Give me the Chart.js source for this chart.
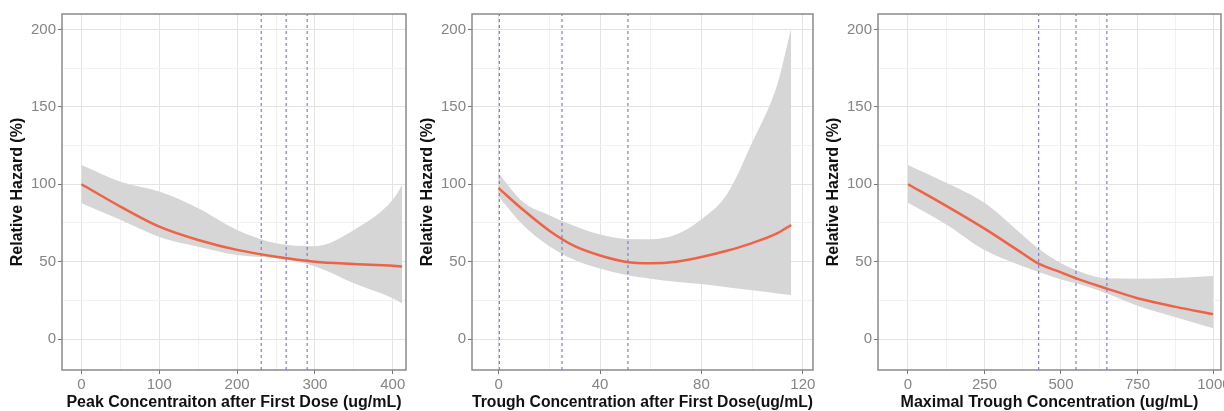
<!DOCTYPE html>
<html>
<head>
<meta charset="utf-8">
<script src="https://cdn.jsdelivr.net/npm/chart.js@4/dist/chart.umd.min.js"></script>
<style>
  body { margin: 0; background: #fff; }
  #wrap { position: relative; width: 1224px; height: 411px; }
  canvas { position: absolute; top: 0; }
</style>
</head>
<body>
<div id="wrap">
  <canvas id="c1" width="410" height="411" style="left:0px"></canvas>
  <canvas id="c2" width="408" height="411" style="left:410px"></canvas>
  <canvas id="c3" width="408" height="411" style="left:816px"></canvas>
</div>
<script>
// shared y axis
const yTicks = [0, 50, 100, 150, 200];
const yRange = [-20, 210];

// panel 1: peak concentration after first dose
const peakX     = [0, 50, 100, 150, 200, 250, 300, 350, 400, 412];
const peakMean  = [100, 85.6, 72.6, 64, 57.6, 53.2, 50, 48.5, 47.3, 46.8];
const peakUpper = [112.5, 101.7, 95.3, 84.5, 70.5, 61.9, 60, 70.5, 90, 99.6];
const peakLower = [87.8, 77, 66, 59.7, 54.3, 52.2, 47, 36, 26.3, 23];
const peakCuts  = [231, 263, 290];
const peakTicks = [0, 100, 200, 300, 400];

// panel 2: trough concentration after first dose
const troughX     = [0, 10, 20, 30, 40, 50, 60, 70, 80, 90, 100, 110, 115.4];
const troughMean  = [97.5, 83, 70, 60, 54, 50, 49, 50, 53, 57, 62, 68.4, 73.7];
const troughUpper = [107, 88, 80, 73, 67.5, 64.7, 64.5, 67.5, 77.4, 93.4, 127, 165, 201];
const troughLower = [92, 73, 60, 51, 45.5, 41.5, 39, 37, 35.5, 33.5, 31.5, 29.5, 28.5];
const troughCuts  = [0.3, 25, 51];
const troughTicks = [0, 40, 80, 120];

// panel 3: maximal trough concentration
const maxX     = [0, 125, 250, 375, 427, 500, 550, 650, 750, 875, 997];
const maxMean  = [100, 86, 71.3, 55.3, 48.7, 43.1, 39.2, 32.6, 26.4, 20.8, 16.1];
const maxUpper = [112.5, 101, 88, 67, 58.3, 49, 44.5, 39.2, 39, 39.5, 40.8];
const maxLower = [88, 74, 57.5, 47, 43.3, 38.5, 36, 29.4, 21.5, 14, 6.9];
const maxCuts  = [427, 549, 650];
const maxTicks = [0, 250, 500, 750, 1000];

const FONT = "'Liberation Sans', Arial, sans-serif";

// frame around the plot area
const framePlugin = {
    id: 'frame',
    afterDraw(chart) {
        const a = chart.chartArea;
        const ctx = chart.ctx;
        ctx.save();
        ctx.strokeStyle = '#8a8a8a';
        ctx.lineWidth = 1.5;
        ctx.strokeRect(a.left, a.top, a.right - a.left, a.bottom - a.top);
        ctx.restore();
    }
};

// majors plus midpoints for the minor grid
function withMinor(majors) {
    const out = [];
    majors.forEach((v, i) => {
        out.push({ value: v, major: true });
        if (i < majors.length - 1) out.push({ value: (v + majors[i + 1]) / 2, major: false });
    });
    return out;
}

function zip(xs, ys) {
    return xs.map((x, i) => ({ x: x, y: ys[i] }));
}

function noPad(s) {
    s.paddingLeft = 0;
    s.paddingRight = 0;
    s.paddingTop = 0;
    s.paddingBottom = 0;
}

function makePanel(id, opts) {
    const datasets = [
        { data: zip(opts.x, opts.lower), borderWidth: 0, pointRadius: 0, fill: false,
          cubicInterpolationMode: 'monotone', order: 3 },
        { data: zip(opts.x, opts.upper), borderWidth: 0, pointRadius: 0, fill: '-1',
          backgroundColor: '#d6d6d6', cubicInterpolationMode: 'monotone', order: 2 },
        { data: zip(opts.x, opts.mean), borderColor: '#ee6247', borderWidth: 2.5,
          pointRadius: 0, fill: false, cubicInterpolationMode: 'monotone', order: 0 }
    ];
    opts.cuts.forEach(c => {
        datasets.push({
            data: [{ x: c, y: yRange[0] }, { x: c, y: yRange[1] }],
            borderColor: '#7b7bea', borderWidth: 1.2, borderDash: [3, 3],
            pointRadius: 0, fill: false, order: 1
        });
    });

    const gridColor = ctx => (ctx.tick && ctx.tick.major) ? '#e3e3e3' : '#f1f1f1';
    const tickColor = ctx => (ctx.tick && ctx.tick.major) ? '#777' : 'rgba(0,0,0,0)';

    new Chart(document.getElementById(id), {
        type: 'line',
        data: { datasets: datasets },
        plugins: [framePlugin],
        options: {
            responsive: false,
            animation: false,
            layout: { padding: { top: 14, right: opts.padRight, left: 0, bottom: 0 } },
            plugins: { legend: { display: false }, tooltip: { enabled: false } },
            scales: {
                x: {
                    type: 'linear',
                    min: opts.xRange[0],
                    max: opts.xRange[1],
                    afterBuildTicks: s => { s.ticks = withMinor(opts.ticks); },
                    afterFit: s => { s.height = 41; noPad(s); },
                    border: { display: false },
                    grid: { color: gridColor, tickColor: tickColor, tickLength: 4, lineWidth: 1 },
                    ticks: {
                        autoSkip: false, maxRotation: 0, padding: 2,
                        color: '#858585', font: { family: FONT, size: 15 },
                        callback: function(v, i, ticks) { return ticks[i].major ? String(v) : ''; }
                    },
                    title: {
                        display: true, text: opts.title, color: '#111',
                        font: { family: FONT, size: 16, weight: 'bold', lineHeight: 1 },
                        padding: { top: 0, bottom: 0 }
                    }
                },
                y: {
                    min: yRange[0],
                    max: yRange[1],
                    afterBuildTicks: s => { s.ticks = withMinor(yTicks); },
                    afterFit: s => { s.width = 62; noPad(s); },
                    border: { display: false },
                    grid: { color: gridColor, tickColor: tickColor, tickLength: 4, lineWidth: 1 },
                    ticks: {
                        autoSkip: false, padding: 2,
                        color: '#858585', font: { family: FONT, size: 15 },
                        callback: function(v, i, ticks) { return ticks[i].major ? String(v) : ''; }
                    },
                    title: {
                        display: true, text: 'Relative Hazard (%)', color: '#111',
                        font: { family: FONT, size: 16, weight: 'bold', lineHeight: 1 },
                        padding: { top: 10, bottom: 0 }
                    }
                }
            }
        }
    });
}

makePanel('c1', {
    x: peakX, mean: peakMean, upper: peakUpper, lower: peakLower, cuts: peakCuts,
    ticks: peakTicks, xRange: [-25, 417], padRight: 4,
    title: 'Peak Concentraiton after First Dose (ug/mL)'
});
makePanel('c2', {
    x: troughX, mean: troughMean, upper: troughUpper, lower: troughLower, cuts: troughCuts,
    ticks: troughTicks, xRange: [-10.5, 124], padRight: 5,
    title: 'Trough Concentration after First Dose(ug/mL)'
});
makePanel('c3', {
    x: maxX, mean: maxMean, upper: maxUpper, lower: maxLower, cuts: maxCuts,
    ticks: maxTicks, xRange: [-98, 1023], padRight: 3,
    title: 'Maximal Trough Concentration (ug/mL)'
});
</script>
</body>
</html>
